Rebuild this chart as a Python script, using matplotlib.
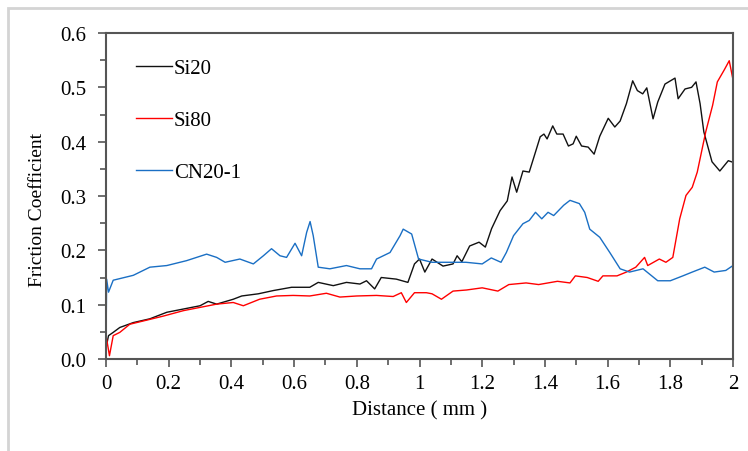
import numpy as np
import matplotlib
matplotlib.use('Agg')
import matplotlib.pyplot as plt
from matplotlib.ticker import MultipleLocator, FuncFormatter
from matplotlib.patches import Rectangle

# data (distance in mm, friction coefficient)
si20_x = [0.0, 0.008, 0.023, 0.044, 0.087, 0.14, 0.194, 0.247, 0.3, 0.326, 0.353, 0.406, 0.433,
          0.486, 0.534, 0.592, 0.65, 0.677, 0.725, 0.767, 0.81, 0.831, 0.857, 0.878, 0.926,
          0.963, 0.984, 1.0, 1.017, 1.04, 1.075, 1.107, 1.12, 1.135, 1.16, 1.19, 1.21, 1.23,
          1.257, 1.28, 1.295, 1.31, 1.33, 1.35, 1.37, 1.385, 1.397, 1.407, 1.425, 1.438, 1.458,
          1.475, 1.49, 1.50, 1.517, 1.538, 1.557, 1.575, 1.602, 1.623, 1.64, 1.66, 1.68, 1.695,
          1.712, 1.725, 1.745, 1.76, 1.783, 1.815, 1.825, 1.847, 1.868, 1.882, 1.895, 1.907,
          1.933, 1.958, 1.985, 2.0]
si20_y = [0.02, 0.043, 0.049, 0.058, 0.067, 0.074, 0.086, 0.092, 0.098, 0.106, 0.101, 0.11, 0.116,
          0.12, 0.126, 0.132, 0.132, 0.141, 0.135, 0.141, 0.138, 0.144, 0.129, 0.15, 0.147,
          0.141, 0.175, 0.184, 0.16, 0.184, 0.171, 0.175, 0.19, 0.179, 0.208, 0.215, 0.206, 0.24,
          0.273, 0.291, 0.335, 0.307, 0.346, 0.344, 0.381, 0.409, 0.414, 0.405, 0.429, 0.414, 0.414,
          0.392, 0.396, 0.41, 0.392, 0.39, 0.377, 0.41, 0.443, 0.427, 0.438, 0.47, 0.512, 0.494,
          0.488, 0.499, 0.442, 0.473, 0.506, 0.517, 0.479, 0.497, 0.5, 0.51, 0.47, 0.418,
          0.363, 0.346, 0.365, 0.362]

si80_x = [0.002, 0.011, 0.023, 0.044, 0.076, 0.119, 0.183, 0.247, 0.3, 0.353, 0.406, 0.438, 0.49,
          0.544, 0.597, 0.65, 0.703, 0.746, 0.8, 0.863, 0.916, 0.942, 0.958, 0.984, 1.022, 1.04,
          1.07, 1.107, 1.15, 1.2, 1.25, 1.285, 1.34, 1.38, 1.44, 1.48, 1.497, 1.535, 1.57, 1.585,
          1.63, 1.66, 1.69, 1.718, 1.728, 1.765, 1.786, 1.808, 1.83, 1.85, 1.87, 1.886, 1.913,
          1.935, 1.95, 1.972, 1.988, 2.0]
si80_y = [0.037, 0.006, 0.043, 0.049, 0.064, 0.07, 0.079, 0.089, 0.095, 0.101, 0.104, 0.098, 0.11,
          0.116, 0.117, 0.116, 0.121, 0.114, 0.116, 0.117, 0.115, 0.122, 0.104, 0.122, 0.122, 0.12,
          0.11, 0.125, 0.127, 0.131, 0.125, 0.137, 0.14, 0.137, 0.143, 0.14, 0.153, 0.15, 0.143, 0.153,
          0.153, 0.16, 0.169, 0.187, 0.172, 0.184, 0.178, 0.187, 0.258, 0.301, 0.316, 0.344, 0.418,
          0.467, 0.51, 0.532, 0.549, 0.514]

cn20_x = [0.0, 0.002, 0.008, 0.023, 0.087, 0.14, 0.194, 0.257, 0.321, 0.353, 0.38, 0.427, 0.47,
          0.502, 0.528, 0.555, 0.576, 0.603, 0.624, 0.64, 0.651, 0.661, 0.677, 0.714, 0.767, 0.81,
          0.847, 0.863, 0.906, 0.938, 0.948, 0.975, 0.997, 1.04, 1.095, 1.148, 1.2, 1.229, 1.26,
          1.277, 1.3, 1.33, 1.35, 1.37, 1.39, 1.41, 1.428, 1.46, 1.48, 1.51, 1.527, 1.543, 1.575,
          1.607, 1.64, 1.67, 1.713, 1.76, 1.8, 1.84, 1.87, 1.91, 1.94, 1.977, 2.0]
cn20_y = [0.02, 0.147, 0.123, 0.145, 0.154, 0.169, 0.172, 0.181, 0.193, 0.187, 0.178, 0.184, 0.175,
          0.19, 0.203, 0.19, 0.187, 0.213, 0.19, 0.233, 0.253, 0.227, 0.169, 0.166, 0.172, 0.166,
          0.166, 0.184, 0.196, 0.227, 0.239, 0.23, 0.184, 0.178, 0.178, 0.178, 0.175, 0.186, 0.178,
          0.196, 0.227, 0.249, 0.255, 0.27, 0.258, 0.27, 0.264, 0.283, 0.292, 0.286, 0.27, 0.239, 0.224,
          0.196, 0.166, 0.16, 0.166, 0.144, 0.144, 0.153, 0.16, 0.169, 0.16, 0.163, 0.172]

labels = ['Si20', 'Si80', 'CN20-1']
colors = ['#111111', '#ff0000', '#1a6fc4']

plt.rcParams['font.family'] = ['Liberation Serif', 'DejaVu Serif']
plt.rcParams['font.size'] = 15

fig = plt.figure(figsize=(7.48, 4.52), dpi=100)
ax = fig.add_axes([106 / 748, 1 - 360 / 452, (733 - 106) / 748, (360 - 34) / 452])

# light frame around the figure
fig.patches.append(Rectangle((8 / 748, -0.1), 1.2, 1 - 9 / 452 + 0.1, transform=fig.transFigure,
                             fill=False, edgecolor='#d4d4d4', linewidth=2))

for xs, ys, lab, c in zip([si20_x, si80_x, cn20_x], [si20_y, si80_y, cn20_y], labels, colors):
    ax.plot(xs, ys, color=c, linewidth=1.0, label=lab)

ax.set_xlim(0, 2)
ax.set_ylim(0, 0.6)
ax.xaxis.set_major_locator(MultipleLocator(0.2))
ax.xaxis.set_minor_locator(MultipleLocator(0.1))
ax.yaxis.set_major_locator(MultipleLocator(0.1))
ax.yaxis.set_minor_locator(MultipleLocator(0.05))
ax.xaxis.set_major_formatter(FuncFormatter(lambda v, p: '%g' % round(v, 2)))
ax.yaxis.set_major_formatter(FuncFormatter(lambda v, p: '%.1f' % v))

for s in ax.spines.values():
    s.set_color('#555555')
    s.set_linewidth(1.5)
ax.tick_params(which='major', direction='out', length=6, width=1.2, color='#555555')
ax.tick_params(which='minor', direction='out', length=4, width=1.2, color='#555555')
ax.tick_params(axis='x', which='major', pad=5)
ax.tick_params(axis='y', which='major', pad=8)
ax.tick_params(top=False, right=False)

ax.set_xlabel('Distance ( mm )', labelpad=5)
ax.set_ylabel('Friction Coefficient', fontsize=14)
ax.yaxis.set_label_coords(-0.096, 0.46)

ax.legend(loc='upper left', frameon=False, handlelength=1.7, labelspacing=1.55,
          handletextpad=0.1, borderaxespad=0.3, bbox_to_anchor=(0.025, 0.966))

fig.savefig('out.png', dpi=100)
